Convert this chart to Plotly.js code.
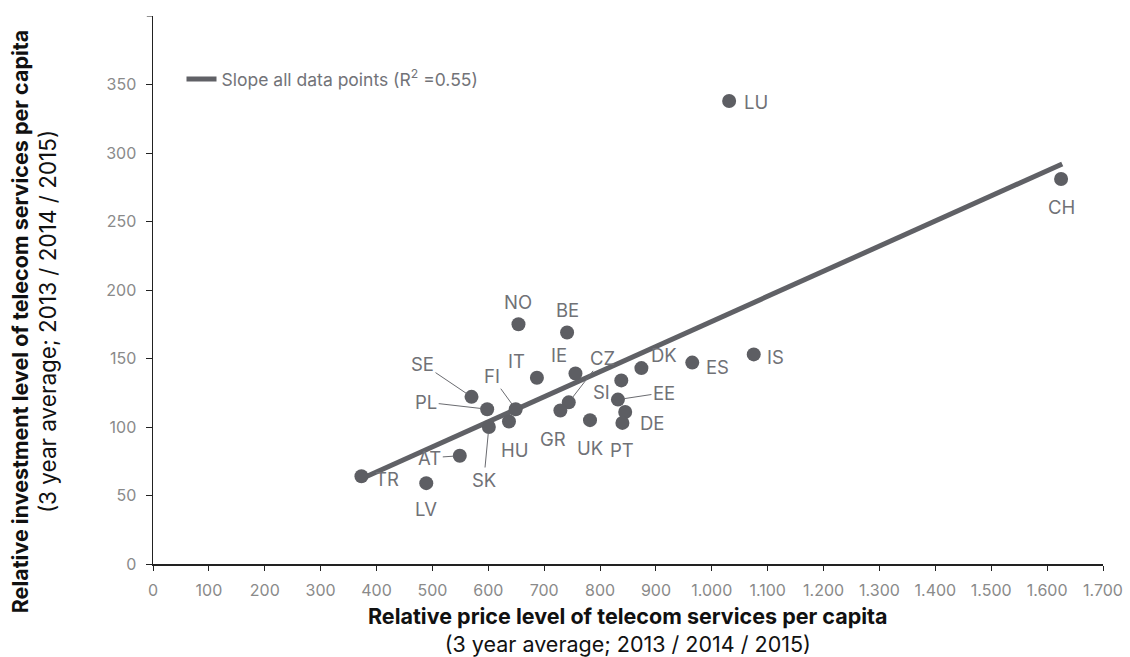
<!DOCTYPE html>
<html>
<head>
<meta charset="utf-8">
<script src="https://cdn.plot.ly/plotly-3.0.1.min.js"></script>
<style>html,body{margin:0;padding:0;background:#fff;}#chart{width:1130px;height:657px;}</style>
</head>
<body>
<div id="chart"></div>
<script>
// Data
const countries = ["TR","LV","AT","SK","HU","PL","SE","FI","IT","NO","BE","IE","CZ","GR","UK","SI","EE","DK","DE","PT","ES","IS","LU","CH"];
const priceLevel = [373,489,549,601,637,598,570,649,687,654,741,756,744,729,782,838,832,874,845,840,965,1075,1031,1625];
const investLevel = [64,59,79,100,104,113,122,113,136,175,169,139,118,112,105,134,120,143,111,103,147,153,338,281];
const trendX = [372,1627];
const trendY = [62,292];
const xTickVals = [0,100,200,300,400,500,600,700,800,900,1000,1100,1200,1300,1400,1500,1600,1700];
const xTickText = ["0","100","200","300","400","500","600","700","800","900","1.000","1.100","1.200","1.300","1.400","1.500","1.600","1.700"];
const yTickVals = [0,50,100,150,200,250,300,350];
const yTickText = ["0","50","100","150","200","250","300","350"];
const yMax = 400;
const xTitle = ['Relative price level of telecom services per capita', '(3 year average; 2013 / 2014 / 2015)'];
const yTitle = ['Relative investment level of telecom services per capita', '(3 year average; 2013 / 2014 / 2015)'];

// label placement (pixel offsets of label from point), leader flag
const labelOffsets = {
  TR:[26,3,false], LV:[0,26,false], AT:[-30,2,true], SK:[-5,53,true], HU:[6,28,false],
  PL:[-61,-7,true], SE:[-49,-33,true], FI:[-24,-33,true], IT:[-20,-17,false], NO:[0,-22,false],
  BE:[0,-22,false], IE:[-16,-19,false], CZ:[34,-44,true], GR:[-7,28,false], UK:[0,28,false],
  SI:[-20,12,false], EE:[46,-7,true], DK:[23,-13,false], DE:[27,11,false], PT:[0,27,false],
  ES:[25,4,false], IS:[22,3,false], LU:[27,1,false], CH:[0,28,false]
};

const FONT = "Inter, 'Liberation Sans', Arial, sans-serif";
const labelFont = {family:FONT, size:18.5, color:"#707176"};
const annotations = countries.map((c,i)=>{
  const o = labelOffsets[c];
  if (o[2]) {
    return {x:priceLevel[i], y:investLevel[i], xref:'x', yref:'y', text:c, showarrow:true,
      arrowhead:0, arrowwidth:1, arrowcolor:'#6a6b70', ax:o[0], ay:o[1], standoff:6, font:labelFont};
  }
  return {x:priceLevel[i], y:investLevel[i], xref:'x', yref:'y', text:c, showarrow:false,
    xshift:o[0], yshift:-o[1], font:labelFont};
});
// y-axis title (two lines), rotated
annotations.push({xref:'paper', yref:'paper', x:0, y:0.443, xshift:-119, xanchor:'center', yanchor:'middle',
  textangle:-90, showarrow:false,
  text:'<b>'+yTitle[0]+'</b><br><span style="font-size:22.5px">'+yTitle[1]+'</span>',
  font:{family:FONT, size:21.5, color:'#111'}});
// x-axis title (two lines)
annotations.push({xref:'paper', yref:'paper', x:0.5, y:0, yshift:-37, xanchor:'center', yanchor:'top',
  showarrow:false,
  text:'<b>'+xTitle[0]+'</b><br>'+xTitle[1],
  font:{family:FONT, size:21.5, color:'#111'}});

const traces = [
  {x:trendX, y:trendY, mode:'lines', type:'scatter', name:'Slope all data points (R<sup>2</sup> =0.55)',
   line:{color:'#606166', width:5}, hoverinfo:'skip'},
  {x:priceLevel, y:investLevel, mode:'markers', type:'scatter', showlegend:false,
   marker:{color:'#5d5e63', size:14}, text:countries}
];

const layout = {
  width:1130, height:657,
  margin:{l:153, r:27, t:16, b:93},
  paper_bgcolor:'#fff', plot_bgcolor:'#fff',
  showlegend:true,
  legend:{x:0.03, y:0.885, xanchor:'left', yanchor:'middle', bgcolor:'rgba(0,0,0,0)',
    font:{family:FONT, size:17.5, color:'#727378'}},
  xaxis:{range:[0,1700], tickvals:xTickVals, ticktext:xTickText, showgrid:false, zeroline:false,
    showline:true, linecolor:'#222', linewidth:1.5, ticks:'outside', ticklen:5, tickcolor:'#222', tickwidth:1,
    ticklabelstandoff:6,
    tickfont:{family:FONT, size:16, color:'#8a8a8a'}},
  yaxis:{range:[0,yMax], tickvals:yTickVals, ticktext:yTickText, showgrid:false, zeroline:false,
    showline:true, linecolor:'#222', linewidth:1.5, ticks:'outside', ticklen:6, tickcolor:'#222', tickwidth:1,
    ticklabelstandoff:6,
    tickfont:{family:FONT, size:16, color:'#8a8a8a'}},
  shapes:[{type:'line', xref:'paper', yref:'y', x0:-0.0065, x1:0, y0:yMax, y1:yMax, line:{color:'#222', width:1}}],
  annotations:annotations
};

Plotly.newPlot('chart', traces, layout, {displayModeBar:false, staticPlot:true});
</script>
</body>
</html>
